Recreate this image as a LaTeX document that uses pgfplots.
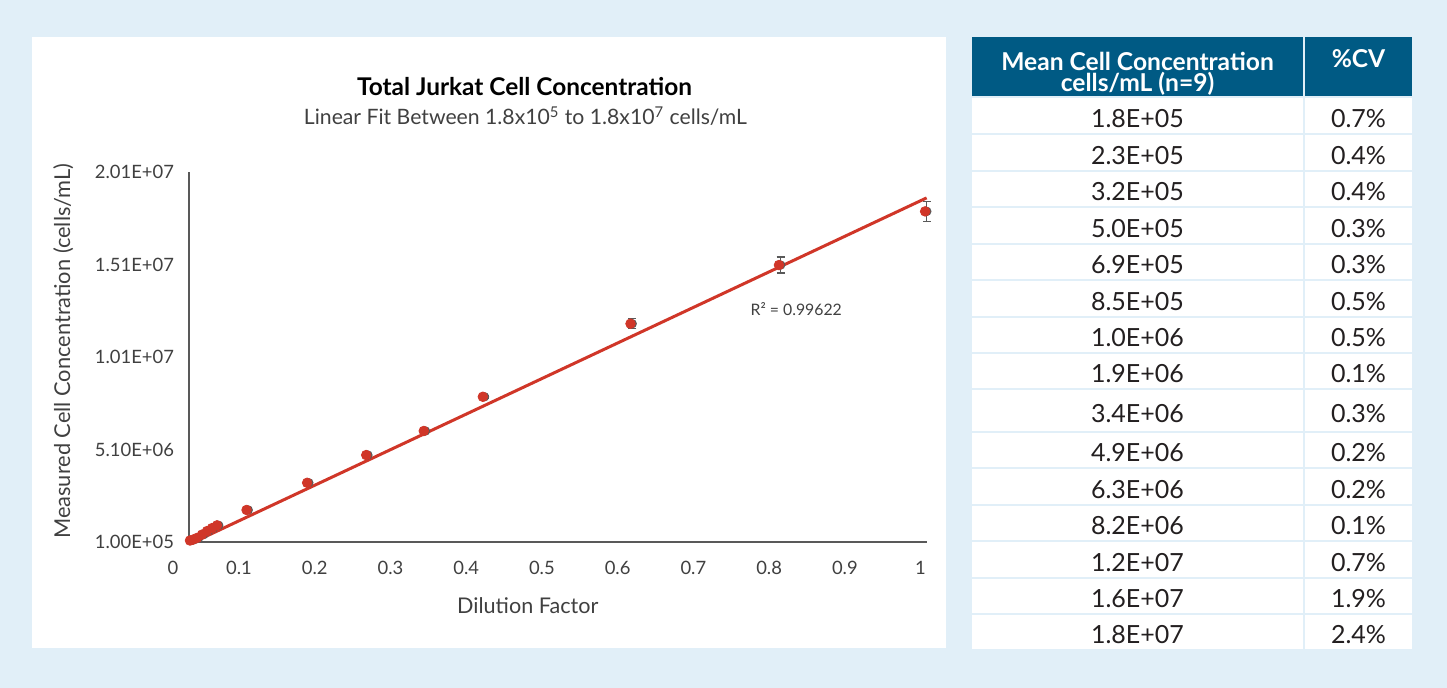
\documentclass[border=0pt]{standalone}
\usepackage{fontspec}
\setmainfont{Lato}
\usepackage{pgfplots}
\usepackage{pgfplotstable}
\pgfplotsset{compat=1.18}
\definecolor{bgblue}{RGB}{225,239,248}
\definecolor{hdr}{RGB}{0,90,132}
\definecolor{dred}{RGB}{208,54,40}
\definecolor{axgray}{RGB}{89,89,89}
\definecolor{txt}{RGB}{64,64,64}
\definecolor{tblk}{RGB}{35,31,32}

\pgfplotstableread{
x      xe      y        e
0.0353 0.0376  1.8e5    1.3e3
0.0393 0.0416  2.3e5    1.0e3
0.0446 0.0469  3.2e5    1.3e3
0.0512 0.0535  5.0e5    1.5e3
0.0578 0.0601  6.9e5    2.0e3
0.0644 0.0667  8.5e5    4.0e3
0.0710 0.0733  1.0e6    5.0e3
0.110  0.1123  1.83e6   2.0e4
0.190  0.1923  3.30e6   1.0e4
0.268  0.2703  4.80e6   1.0e4
0.344  0.3463  6.10e6   1.3e4
0.422  0.4243  7.95e6   8.0e4
0.617  0.6193  1.19e7   2.7e5
0.813  0.8153  1.507e7  4.3e5
1.006  1.0083  1.797e7  5.4e5
}\cells

\begin{document}
\begin{tikzpicture}[x=0.5pt,y=0.5pt]
% background and panels
\fill[bgblue] (0,0) rectangle (1447,688);
\fill[white] (32,40) rectangle (946,651);
% table header
\fill[hdr] (972,592) rectangle (1303,651);
\fill[hdr] (1305,592) rectangle (1412,651);
\node[text=white, align=center, font=\fontsize{12.3}{9.5}\selectfont\bfseries] at (1137.5,614) {Mean Cell Concentration\\cells/mL (n=9)};
\node[text=white, anchor=base, font=\fontsize{12.3}{12}\selectfont\bfseries] at (1358.5,620) {\%CV};
% table rows
\foreach \t/\b/\a/\c in {97/134.5/1.8E+05/{0.7\%},134.5/171/2.3E+05/{0.4\%},171/207.5/3.2E+05/{0.4\%},207.5/244/5.0E+05/{0.3\%},244/280.5/6.9E+05/{0.3\%},280.5/317/8.5E+05/{0.5\%},317/353.5/1.0E+06/{0.5\%},353.5/389.5/1.9E+06/{0.1\%},389.5/432/3.4E+06/{0.3\%},432/468.5/4.9E+06/{0.2\%},468.5/505/6.3E+06/{0.2\%},505/541.5/8.2E+06/{0.1\%},541.5/578/1.2E+07/{0.7\%},578/614.5/1.6E+07/{1.9\%},614.5/650.3/1.8E+07/{2.4\%}}{
  \fill[white] (972,{688-\t-1}) rectangle (1303,{688-\b+1});
  \fill[white] (1305,{688-\t-1}) rectangle (1412,{688-\b+1});
  \node[anchor=base, text=tblk, font=\fontsize{12.5}{12}\selectfont] at (1137.5,{688-(\t+\b)/2-11.5}) {\a};
  \node[anchor=base, text=tblk, font=\fontsize{12.5}{12}\selectfont] at (1358.5,{688-(\t+\b)/2-11.5}) {\c};
}
% titles
\node[anchor=base, text=black, font=\fontsize{12.2}{13}\selectfont\bfseries] at (524.5,592) {Total Jurkat Cell Concentration};
\node[anchor=base, text=txt, font=\fontsize{10.6}{12}\selectfont] at (525.5,563) {Linear Fit Between 1.8x10\textsuperscript{5} to 1.8x10\textsuperscript{7} cells/mL};
% extra x tick label "0"
\node[text=txt, font=\fontsize{9.2}{10}\selectfont] at (173,120) {0};
\begin{axis}[
  at={(94.5pt,73pt)}, anchor=south west,
  scale only axis, width=369pt, height=185pt,
  xmin=0.034, xmax=1.0085, ymin=1e5, ymax=2.01e7,
  clip=false, scaled y ticks=false, scaled x ticks=false,
  axis x line*=bottom, axis y line*=left,
  axis line style={draw=axgray, line width=0.75pt},
  major tick length=0,
  xtick={0.1,0.2,0.3,0.4,0.5,0.6,0.7,0.8,0.9,1},
  xticklabels={0.1,0.2,0.3,0.4,0.5,0.6,0.7,0.8,0.9,1},
  ytick={1e5,5.1e6,1.01e7,1.51e7,2.01e7},
  yticklabels={1.00E+05,5.10E+06,1.01E+07,1.51E+07,2.01E+07},
  tick label style={font=\fontsize{9.2}{10}\selectfont, text=txt},
  xticklabel style={yshift=-6pt},
  yticklabel style={xshift=-4pt},
  xlabel={Dilution Factor},
  xlabel style={at={(axis description cs:0.459,0)}, anchor=center, yshift=-32pt, font=\fontsize{10.8}{12}\selectfont, text=txt},
  ylabel={Measured Cell Concentration (cells/mL)},
  ylabel style={at={(axis description cs:-0.1705,0.516)}, anchor=center, font=\fontsize{10.9}{12}\selectfont, text=txt},
]
\addplot[dred, line width=1.5pt] coordinates {(0.0405,1e5) (1.008,1.87e7)};
\addplot[axgray, line width=0.6pt, only marks, mark=none, forget plot,
  error bars/.cd, y dir=both, y explicit,
  error bar style={axgray, line width=0.6pt},
  error mark options={axgray, mark size=2pt, line width=0.6pt, rotate=90}]
  table[x=xe, y=y, y error=e] {\cells};
\addplot[only marks, mark=*, mark size=2.4pt, color=dred, mark options={draw=dred, fill=dred}]
  table[x=x, y=y] {\cells};
\node[text=txt, font=\fontsize{7.9}{9}\selectfont] at (axis cs:0.8359,1.267e7) {R² = 0.99622};
\end{axis}
\end{tikzpicture}
\end{document}
